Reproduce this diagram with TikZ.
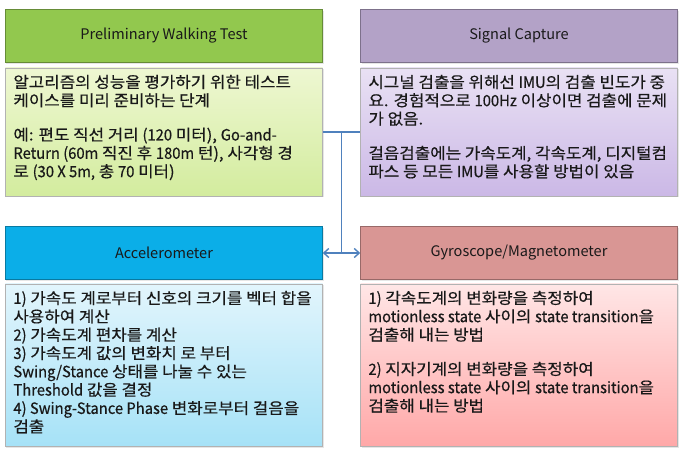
\documentclass[tikz,border=0pt]{standalone}
\usepackage{fontspec}
\setmainfont{Noto Sans CJK KR}
\newfontfamily\boxfont{Noto Sans CJK KR}[FakeStretch=1.08,FakeBold=0.5]
\newfontfamily\latfont{Noto Sans CJK KR}[FakeStretch=0.95,FakeBold=0.5]
\newcommand{\lat}[1]{{\latfont #1}}
\usetikzlibrary{arrows.meta,calc,shadows}
\definecolor{walkhead}{HTML}{92C84E}
\definecolor{walktop}{HTML}{EEF7D2}
\definecolor{walkbot}{HTML}{D3EC9E}
\definecolor{sighead}{HTML}{B3A2C7}
\definecolor{sigtop}{HTML}{E9E1F4}
\definecolor{sigbot}{HTML}{CBB8E6}
\definecolor{acchead}{HTML}{0BAEE8}
\definecolor{acctop}{HTML}{E2F5FC}
\definecolor{accbot}{HTML}{A6E2F7}
\definecolor{gyrohead}{HTML}{D99694}
\definecolor{gyrotop}{HTML}{FFE6E6}
\definecolor{gyrobot}{HTML}{FFA8A8}
\definecolor{linkblue}{HTML}{4F81BD}

\begin{document}
\begin{tikzpicture}[x=1bp,y=-1bp,
  head/.style={draw=#1!70!black,fill=#1,line width=0.5pt,minimum width=317bp,
    minimum height=53bp,inner sep=0pt,font=\fontsize{14.6}{16}\selectfont,text=black!90,
    drop shadow={shadow xshift=1bp,shadow yshift=-1.5bp,opacity=0.2}},
  body/.style 2 args={draw=black!30,line width=0.5pt,top color=#1,bottom color=#2,
    minimum width=317bp,inner sep=0pt,
    drop shadow={shadow xshift=1bp,shadow yshift=-1.5bp,opacity=0.2}},
  bodytext/.style={anchor=north west,align=left,inner sep=0pt,
    font=\boxfont\fontsize{15.6}{18.4}\selectfont,text=black!90},
  link/.style={draw=linkblue,line width=1.4pt}]
  \useasboundingbox (0,0) rectangle (684,464);

  \node[head=walkhead] (prehead) at (164,36) {Preliminary Walking Test};
  \node[body={walktop}{walkbot},minimum height=128bp] (prebody) at (164,132) {};
  \node[bodytext] (pretext) at ([shift={(8,7)}]prebody.north west)
    {알고리즘의 성능을 평가하기 위한 테스트\\케이스를 미리 준비하는 단계\\[16bp]
     예: 편도 직선 거리 \lat{(120} 미터), \lat{Go-and-}\\\lat{Return (60m} 직진 후 \lat{180m} 턴), 사각형 경\\로 \lat{(30 X 5m,} 총 \lat{70} 미터)};

  \node[head=sighead] (sighead) at (519,36) {Signal Capture};
  \node[body={sigtop}{sigbot},minimum height=128bp] (sigbody) at (519,132) {};
  \node[bodytext] (sigtext) at ([shift={(8,7)}]sigbody.north west)
    {시그널 검출을 위해선 \lat{IMU}의 검출 빈도가 중\\요. 경험적으로 \lat{100Hz} 이상이면 검출에 문제\\가 없음.\\[16bp]
     걸음검출에는 가속도계, 각속도계, 디지털컴\\파스 등 모든 \lat{IMU}를 사용할 방법이 있음};

  \node[head=acchead] (acchead) at (164,253) {Accelerometer};
  \node[body={acctop}{accbot},minimum height=162bp] (accbody) at (164,365) {};
  \node[bodytext] (acctext) at ([shift={(8,7)}]accbody.north west)
    {\lat{1)} 가속도 계로부터 신호의 크기를 벡터 합을\\사용하여 계산\\\lat{2)} 가속도계 편차를 계산\\
     \lat{3)} 가속도계 값의 변화치 로 부터\\\lat{Swing/Stance} 상태를 나눌 수 있는\\\lat{Threshold} 값을 결정\\
     \lat{4) Swing-Stance Phase} 변화로부터 걸음을\\검출};

  \node[head=gyrohead] (gyrohead) at (519,253) {Gyroscope/Magnetometer};
  \node[body={gyrotop}{gyrobot},minimum height=162bp] (gyrobody) at (519,365) {};
  \node[bodytext] (gyrotext) at ([shift={(8,7)}]gyrobody.north west)
    {\lat{1)} 각속도계의 변화량을 측정하여\\\lat{motionless state} 사이의 \lat{state transition}을\\검출해 내는 방법\\[16bp]
     \lat{2)} 지자기계의 변화량을 측정하여\\\lat{motionless state} 사이의 \lat{state transition}을\\검출해 내는 방법};

  \coordinate (join) at ($(prebody.east)!0.5!(sigbody.west)$);
  \coordinate (fork) at (join |- acchead.east);
  \draw[link] (prebody.east) -- (sigbody.west);
  \draw[link] (join) -- (fork);
  \draw[link,-{Straight Barb[length=5bp,width=9bp]}] (fork) -- (acchead.east);
  \draw[link,-{Straight Barb[length=5bp,width=9bp]}] (fork) -- (gyrohead.west);
\end{tikzpicture}
\end{document}
